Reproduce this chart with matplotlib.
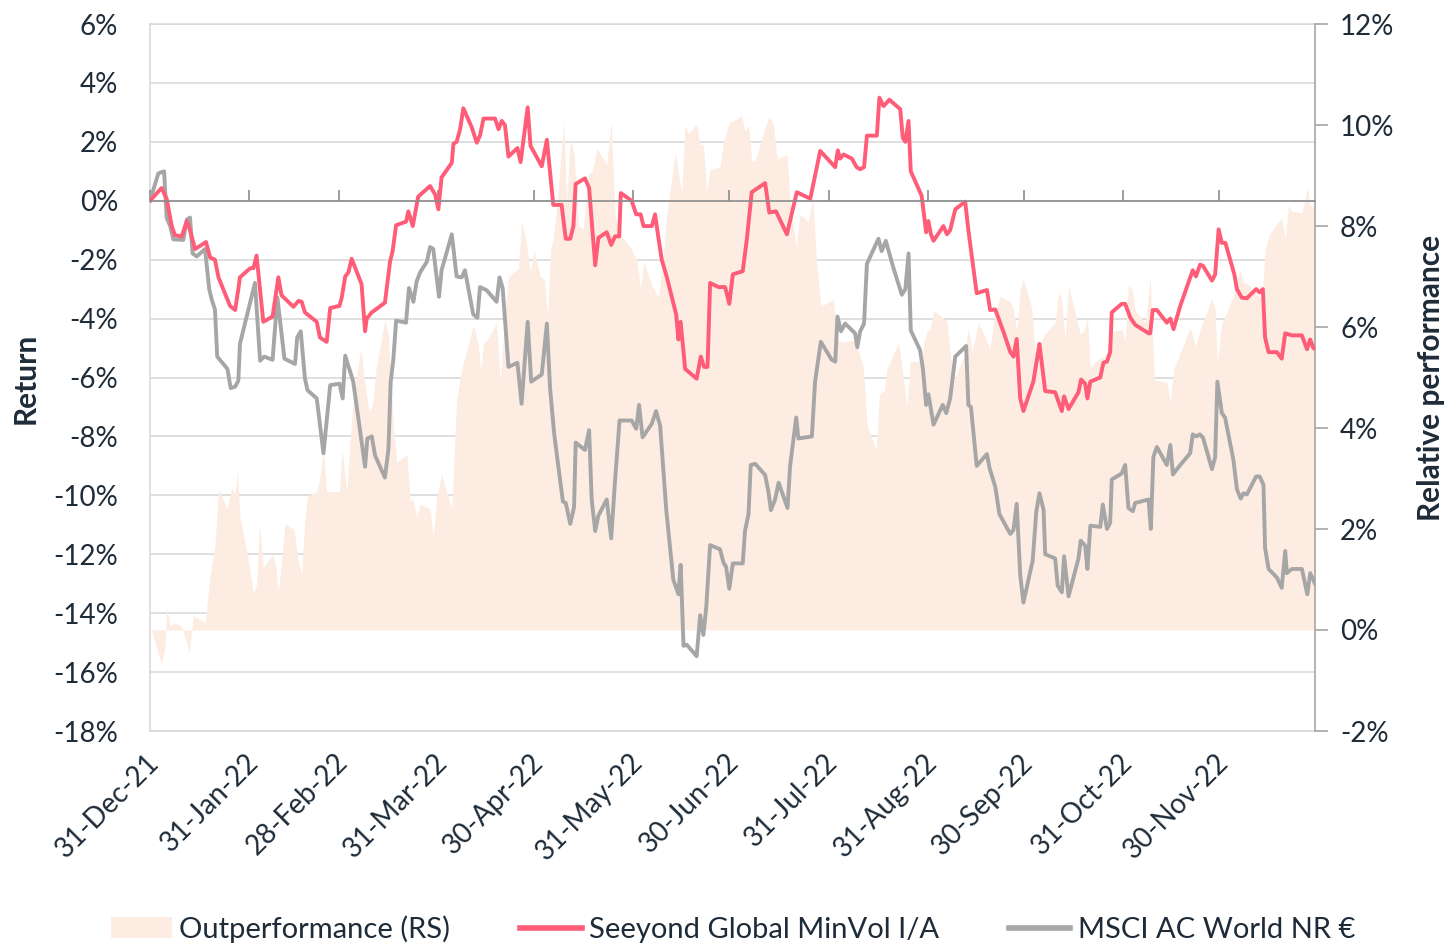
import numpy as np
import pandas as pd
import matplotlib
matplotlib.use("Agg")
import matplotlib.pyplot as plt
import matplotlib.transforms as mtransforms
from matplotlib.patches import Patch
from matplotlib.lines import Line2D

plt.rcParams['font.family'] = ['Lato', 'DejaVu Sans']

# x values are days since 31-Dec-21
start = pd.Timestamp('2021-12-31')

# Seeyond Global MinVol I/A, cumulative return in % (left axis)
seeyond_days = [0.0, 3.6, 5.2, 6.8, 7.8, 9.9, 11.5, 12.5, 14.1, 16.1, 17.5, 18.8, 20.3, 21.4, 25.0, 26.6, 27.6, 28.1,
                31.3, 32.3, 33.3, 35.4, 38.3, 40.1, 41.1, 44.8, 46.4, 47.4, 48.4, 52.1, 53.1, 55.2, 56.3, 59.2, 59.9,
                61.0, 62.0, 63.0, 66.1, 67.2, 67.7, 69.3, 73.4, 75.0, 75.8, 76.9, 80.0, 80.7, 82.1, 83.8,
                87.5, 89.1, 90.1, 91.1, 94.3, 94.8, 95.8, 96.9, 97.9, 100.5, 102.1, 103.1, 104.2, 107.8, 108.9, 109.9,
                110.9, 112.0, 114.8, 115.8, 118.0, 118.9, 122.4, 124.0, 126.0, 128.6, 129.9, 131.3, 132.3, 133.0,
                135.9, 137.2, 139.1, 140.1, 142.7, 144.1, 145.3, 146.6, 147.1, 150.5, 151.9, 153.3, 154.2, 156.8,
                157.8, 158.9, 159.9, 161.5, 164.4, 165.1, 165.8, 167.2, 170.8, 172.1, 173.1, 174.2, 175.0, 177.6,
                179.7, 181.0, 182.1, 185.2, 186.5, 188.0, 192.2, 193.5, 195.6, 199.0, 202.1, 206.3, 209.4, 214.1,
                214.9, 215.6, 216.7, 219.3, 220.8, 221.9, 223.1, 224.0, 227.1, 227.9, 229.2, 231.0, 234.4, 235.2,
                236.0, 237.0, 237.7, 241.1, 242.5, 243.2, 244.0, 244.8, 247.9, 249.0, 250.0, 251.6, 254.7, 255.7,
                258.3, 261.5, 262.5, 264.1, 266.7,
                268.8, 269.8, 270.8, 271.9, 272.9, 276.0, 277.9, 279.7, 282.8, 284.9, 285.6, 287.0, 290.1, 290.9,
                292.2, 292.9, 293.8, 296.9, 297.9, 299.0, 300.0, 300.5, 303.6, 304.7, 306.3, 307.8, 312.0, 312.5,
                313.3, 314.6, 317.7, 318.8, 319.8, 321.9, 325.0, 325.8, 326.8, 328.1, 329.0, 331.8, 332.8, 333.9,
                334.9, 336.0, 337.5, 338.8, 339.6, 341.1, 342.7, 345.6, 346.7, 347.7, 348.4, 349.5, 352.1, 353.6,
                354.7, 356.8, 359.9, 361.5, 362.5, 363.5, 364.0]
seeyond_vals = [0.00, 0.43, 0.07, -0.86, -1.17, -1.21, -0.69, -1.00, -1.64, -1.50, -1.40, -1.93, -2.00, -2.60, -3.57,
                -3.71, -3.00, -2.60, -2.29, -2.29, -1.86, -4.11, -3.93, -2.60, -3.21, -3.60, -3.40, -3.43, -3.79,
                -4.11, -4.64, -4.79, -3.64, -3.57, -3.29, -2.57, -2.43, -1.97, -2.83, -4.43, -4.00, -3.79, -3.46,
                -2.07, -1.71, -0.83, -0.71, -0.36, -0.86, 0.14,
                0.50, 0.21, -0.29, 0.79, 1.29, 1.93, 2.00, 2.43, 3.14, 2.50, 1.97, 2.21, 2.79, 2.79, 2.43, 2.71, 2.57,
                1.50, 1.79, 1.31, 3.17, 1.86, 1.17, 2.07, -0.14, -0.14, -1.29, -1.29, -0.86, 0.57, 0.76, 0.43, -2.19,
                -1.26, -1.07, -1.50, -1.21, -1.21, 0.26, 0.00, -0.46, -0.46, -0.86, -0.86, -0.46, -1.29, -2.00, -2.60,
                -3.86, -4.71, -4.11, -5.71, -6.04, -5.29, -5.64, -5.64, -2.79, -2.93,
                -2.93, -3.50, -2.50, -2.39, -1.29, 0.29, 0.60, -0.40, -0.36, -1.14, 0.29, 0.07, 1.69, 1.14, 1.71, 1.43,
                1.57, 1.43, 1.14, 1.07, 1.14, 2.21, 2.21, 3.50, 3.21, 3.43, 3.11, 2.14, 2.00, 2.71, 1.00, 0.17, -1.07,
                -0.69, -1.14, -1.36, -0.86, -1.14, -1.00, -0.29, -0.03, -1.00, -3.14, -3.03, -3.71, -3.69, -4.46,
                -5.14, -5.29, -4.69, -6.71, -7.14, -6.14, -4.86, -6.46, -6.50, -7.14, -6.64, -7.07, -6.50, -6.07,
                -6.21, -6.71, -6.14, -6.00, -5.50, -5.46, -5.14, -3.79, -3.50, -3.50, -3.97, -4.21, -4.50, -4.50,
                -3.71, -3.71, -4.14, -4.00, -4.36, -3.57, -2.60, -2.36, -2.57, -2.17, -2.21, -2.71, -2.50, -0.97,
                -1.43, -1.43, -2.00, -2.50, -3.00, -3.29, -3.31, -3.00, -3.11, -3.00, -4.64, -5.14, -5.14, -5.36,
                -4.50, -4.57, -4.57, -5.04, -4.71, -5.00, -5.03]

# MSCI AC World NR EUR, cumulative return in % (left axis)
msci_days = [0.0, 2.6, 4.4, 5.2, 6.3, 7.3, 10.4, 11.5, 12.5, 13.3, 14.6, 17.2, 18.5, 19.3, 20.3, 21.0, 24.2, 25.2,
             26.6, 27.6, 28.1, 32.8, 34.4, 35.7, 38.3, 39.8, 42.0, 45.3, 46.0, 47.1, 48.4, 49.2, 52.1, 54.2, 56.3,
             59.2, 60.2, 61.0, 63.5, 67.2, 67.9, 69.3, 70.3, 73.4, 74.5, 75.2, 76.0, 76.9, 80.0, 80.9, 82.3, 83.3,
             84.4, 86.5,
             87.5, 88.5, 90.3, 91.1, 94.3, 95.8, 97.4, 98.4, 101.0, 102.3, 103.1, 105.2, 108.3, 109.2, 110.2, 112.0,
             114.8, 116.1, 118.0, 119.1, 122.4, 124.0, 125.0, 126.3, 129.0, 129.9, 131.3, 132.5, 133.0, 135.9, 137.2,
             138.0, 139.1, 140.1, 142.7, 144.1, 145.3, 146.7, 150.5, 151.9, 152.8, 153.9, 156.8, 158.1, 159.4, 161.3,
             163.5, 165.1, 165.8, 166.7, 167.7, 170.8, 171.9, 172.9, 173.8, 175.0,
             178.1, 179.2, 180.0, 181.0, 182.1, 185.2, 185.9, 187.0, 187.7, 189.1, 192.2, 193.2, 194.0, 195.3, 196.4,
             199.2, 200.0, 201.9, 202.6, 206.8, 207.8, 209.6, 213.0, 214.1, 214.8, 215.9, 217.2, 220.3, 221.0, 221.9,
             223.1, 224.0, 227.6, 228.6, 229.9, 232.3, 234.9, 236.0, 237.0, 237.7, 240.6, 241.5, 242.5, 243.2, 244.0,
             244.8, 247.7, 248.8, 250.0, 251.6, 255.0, 255.7, 256.5, 258.3, 261.5, 262.3, 264.1, 265.4,
             268.8, 269.8, 270.8, 271.9, 272.9, 275.8, 276.9, 277.9, 279.2, 279.7, 282.8, 283.6, 284.9, 285.6, 287.0,
             290.1, 290.8, 292.2, 292.9, 293.8, 296.9, 297.7, 299.0, 300.0, 300.5, 303.6, 304.7, 305.7, 307.1, 307.8,
             312.0, 312.7, 313.5, 314.6, 317.7, 318.8, 319.6, 321.9, 325.0, 325.8, 326.9, 328.0, 329.0, 331.8, 332.8,
             333.5, 334.9, 335.9, 338.5, 339.6, 340.8, 341.7, 342.7, 345.6, 346.7, 347.9, 348.4, 349.5, 352.1, 353.6,
             354.7, 355.2, 356.8, 359.9, 361.6, 362.5, 364.0]
msci_vals = [0.00, 0.93, 1.00, -0.57, -0.86, -1.31, -1.33, -0.64, -0.57, -1.79, -1.89, -1.64, -3.00, -3.36, -3.69,
             -5.29, -5.71, -6.36, -6.31, -6.11, -4.86, -2.79, -5.43, -5.29, -5.40, -3.29, -5.36, -5.54, -4.64, -4.43,
             -6.03, -6.43, -6.71, -8.57, -6.26, -6.21, -6.71, -5.26, -6.14, -9.03, -8.07, -8.00, -8.64, -9.40, -8.43,
             -6.14, -5.43, -4.07, -4.14, -2.96, -3.43, -2.74, -2.43, -2.07,
             -1.57, -1.64, -3.26, -2.36, -1.14, -2.57, -2.60, -2.36, -3.86, -3.97, -2.93, -3.04, -3.43, -2.60, -2.97,
             -5.64, -5.50, -6.89, -4.11, -6.14, -5.90, -4.17, -6.36, -7.93, -10.21, -10.26, -10.97, -10.40, -8.21,
             -8.46, -7.79, -10.14, -11.21, -10.69, -10.14, -11.46, -9.50, -7.46, -7.46, -7.74, -6.93, -8.03, -7.57,
             -7.14, -7.64, -10.50, -12.86, -13.36, -12.36, -15.11, -15.07, -15.46, -14.07, -14.74, -13.79, -11.69,
             -11.83, -12.29, -12.43, -13.17, -12.31, -12.31, -11.21, -10.64, -8.97, -8.93, -9.31, -9.86, -10.50,
             -10.14, -9.57, -10.43, -9.00, -7.36, -8.07, -8.00, -6.14, -4.79, -5.40, -5.46, -3.93, -4.43, -4.17,
             -4.50, -4.97, -4.43, -4.17, -2.14, -1.29, -1.71, -1.36, -2.29, -3.19, -3.00, -1.79, -4.40, -5.07, -5.71,
             -6.93, -6.57, -7.07, -7.60, -6.93, -7.21, -6.71, -5.29, -4.93, -6.93, -7.00, -9.00, -8.60, -9.07, -9.71,
             -10.64,
             -11.31, -11.17, -10.29, -12.71, -13.64, -12.21, -10.57, -9.93, -10.50, -12.00, -12.14, -13.07, -13.29,
             -12.07, -13.43, -12.14, -11.54, -11.71, -12.50, -11.03, -11.07, -10.31, -11.14, -10.93, -9.46, -9.26,
             -8.97, -10.43, -10.54, -10.26, -10.14, -11.14, -8.69, -8.36, -8.97, -8.29, -9.29, -8.97, -8.57, -7.93,
             -8.00, -7.93, -8.04, -9.11, -8.71, -6.14, -7.21, -7.36, -8.79, -9.79, -10.11, -9.93, -9.97, -9.36,
             -9.36, -9.64, -11.79, -12.50, -12.79, -13.14, -11.89, -12.64, -12.50, -12.50, -13.36, -12.64, -13.00]

# Outperformance (RS), in % (right axis)
outperf_days = [0.0, 0.5, 3.6, 4.7, 5.2, 6.3, 7.3, 9.9, 12.3, 13.5, 17.2, 18.8, 20.3, 21.4, 24.2, 25.5, 26.6, 27.3,
                28.1, 30.7, 32.3, 33.3, 34.2, 35.4, 38.3, 39.4, 40.1, 42.2, 45.0, 46.4, 47.4, 48.4, 49.2, 52.1, 53.1,
                54.2, 55.2, 59.2, 60.0, 61.5, 62.5, 63.5, 65.9, 67.2, 68.5, 69.5, 70.6, 73.4, 74.5, 76.0, 77.1, 80.2,
                81.3, 82.3, 83.3, 84.4,
                87.5, 88.5, 89.6, 91.1, 94.3, 95.8, 97.4, 99.5, 101.0, 102.6, 103.3, 104.2, 105.7, 108.3, 109.4, 110.9,
                112.0, 115.1, 116.1, 117.4, 118.8, 120.0, 121.9, 123.2, 124.2, 125.2, 126.0, 127.3, 129.2, 130.2,
                131.3, 132.5, 133.9, 135.4, 137.0, 138.2, 139.6, 142.7, 144.1, 145.3, 146.9, 150.0, 152.1, 153.3,
                154.2, 156.8, 158.9, 160.4, 161.5, 164.1, 166.1, 167.2, 168.2, 170.8, 171.9, 172.9, 173.9, 175.0,
                178.1, 179.2, 181.0, 184.9, 185.9, 187.0, 188.0, 189.1, 192.2, 193.5, 194.8, 196.0, 199.0, 200.0,
                201.9, 203.1, 205.7, 207.1, 208.3, 209.6, 213.5, 214.6, 216.7, 220.3, 222.9, 224.0, 226.9, 227.9,
                229.4, 230.2, 233.9, 235.2, 236.5, 237.5, 241.1, 241.7, 242.7, 243.8, 244.8, 249.0, 251.0, 254.7,
                255.7, 256.8, 258.9, 262.5, 263.5, 265.6,
                268.8, 269.8, 270.8, 271.9, 272.9, 275.5, 276.6, 279.7, 282.8, 283.9, 284.9, 285.9, 287.0, 290.6,
                291.7, 292.9, 293.8, 296.4, 297.9, 299.0, 300.0, 303.6, 304.7, 305.7, 306.8, 307.8, 311.0, 312.5,
                313.8, 317.7, 318.8, 319.8, 321.9, 325.0, 326.6, 328.1, 331.8, 332.8, 333.5, 334.9, 335.9, 338.5,
                340.6, 341.7, 342.7, 345.6, 347.4, 348.4, 349.8, 352.1, 353.6, 354.7, 355.7, 356.8, 359.9, 361.0,
                361.7, 362.5, 363.5, 364.0]
outperf_vals = [0.00, -0.02, -0.67, -0.35, 0.44, 0.07, 0.15, 0.07, -0.45, 0.28, 0.15, 1.07, 1.69, 2.78, 2.40, 2.82,
                2.70, 3.16, 2.24, 1.40, 0.73, 0.90, 2.11, 1.24, 1.49, 1.24, 0.73, 2.11, 1.99, 1.32, 1.11, 2.20, 2.65,
                2.74, 3.03, 3.57, 2.74, 2.74, 3.57, 2.74, 3.74, 4.57, 5.58, 4.82, 4.32, 4.45, 5.16, 6.14, 5.83, 4.07,
                3.32, 3.47, 2.57, 2.57, 2.24, 2.49,
                2.40, 1.86, 2.65, 3.07, 2.40, 4.57, 5.16, 5.66, 6.04, 5.66, 5.12, 5.66, 5.78, 6.08, 4.91, 6.24, 7.00,
                7.16, 8.08, 7.75, 7.08, 7.50, 7.00, 6.95, 6.20, 7.54, 7.75, 8.50, 10.08, 8.50, 9.75, 9.42, 8.00, 7.95,
                9.04, 9.08, 9.54, 9.21, 10.08, 8.21, 7.83, 7.58, 7.33, 6.74, 7.29, 6.83, 6.58, 7.41, 8.25, 9.46, 8.66,
                10.00, 9.83, 10.02, 9.58, 9.62, 8.66, 9.12,
                9.17, 9.67, 10.04, 10.18, 9.87, 10.00, 9.29, 9.29, 9.96, 10.17, 10.00, 9.33, 9.42, 8.50, 7.58, 8.23,
                8.08, 8.58, 7.25, 6.41, 6.54, 5.74, 5.70, 5.74, 5.20, 4.07, 3.57, 4.66, 4.74, 5.16, 5.70, 5.08, 4.41,
                5.33, 5.31, 5.66, 5.91, 5.95, 6.33, 6.12, 4.91, 5.49, 5.99, 5.49, 6.08, 5.58, 6.08, 6.62,
                6.49, 6.33, 5.91, 6.74, 6.95, 6.37, 5.49, 5.87, 6.08, 6.70, 6.54, 5.74, 6.81, 5.87, 5.91, 6.16, 5.20,
                5.37, 5.41, 5.49, 5.91, 5.95, 5.74, 6.83, 6.74, 6.33, 6.08, 7.00, 4.95, 4.91, 4.49, 5.16, 5.49, 5.99,
                5.62, 5.95, 6.56, 6.33, 5.28, 6.08, 6.20, 6.62, 7.12, 6.87, 6.87, 6.66, 6.54, 7.54, 7.83, 8.04, 8.16,
                7.75, 8.41, 8.29, 8.26, 8.58, 8.75, 8.41, 8.37, 8.41]

tick_dates = ['2021-12-31', '2022-01-31', '2022-02-28', '2022-03-31', '2022-04-30', '2022-05-31',
              '2022-06-30', '2022-07-31', '2022-08-31', '2022-09-30', '2022-10-31', '2022-11-30']
tick_labels = ['31-Dec-21', '31-Jan-22', '28-Feb-22', '31-Mar-22', '30-Apr-22', '31-May-22',
               '30-Jun-22', '31-Jul-22', '31-Aug-22', '30-Sep-22', '31-Oct-22', '30-Nov-22']


def to_dates(days):
    return start + pd.to_timedelta(np.array(days), unit='D')


text_col = '#1e2b38'
red = '#ff5c77'
grey = '#a6a6a6'
peach = '#fdece2'
fs = 20
fs_big = 21.5

fig = plt.figure(figsize=(14.5, 9.46), dpi=100)
ax = fig.add_axes([150 / 1450, 1 - 731 / 946, 1165 / 1450, 707 / 946])
ax.set_zorder(1)

# left axis: gridlines and labels
ax.set_ylim(-18, 6)
ax.set_yticks(range(-18, 7, 2))
ax.set_yticklabels([f'{v}%' for v in range(-18, 7, 2)])
ax.yaxis.grid(True, color='#d9d9d9', lw=1.2)
ax.set_axisbelow(True)
ax.tick_params(axis='y', length=0, pad=23, labelsize=fs, labelcolor=text_col)
for s in ['left', 'top', 'bottom']:
    ax.spines[s].set_color('#d9d9d9')
    ax.spines[s].set_linewidth(1.2)
ax.spines['right'].set_visible(False)

ax.set_xlim(start, pd.Timestamp('2022-12-30'))
ax.set_xticks(pd.to_datetime(tick_dates))
ax.set_xticklabels(tick_labels, rotation=45, ha='right', rotation_mode='anchor')
ax.tick_params(axis='x', length=0, pad=13, labelsize=fs, labelcolor=text_col)
shift = mtransforms.ScaledTranslation(-4 / 100, 0, fig.dpi_scale_trans)
for lbl in ax.get_xticklabels():
    lbl.set_transform(lbl.get_transform() + shift)

# right axis: outperformance area
axr = ax.twinx()
axr.set_zorder(2)
axr.patch.set_visible(False)
axr.fill_between(to_dates(outperf_days), 0, outperf_vals, color=peach, lw=0)
axr.set_ylim(-2, 12)
axr.set_yticks(range(-2, 13, 2))
axr.set_yticklabels([f'{v}%' for v in range(-2, 13, 2)])
axr.tick_params(axis='y', length=9, width=1.2, color='#a6a6a6', pad=9, labelsize=fs, labelcolor=text_col)
for s in ['left', 'top', 'bottom']:
    axr.spines[s].set_visible(False)
axr.spines['right'].set_color('#a6a6a6')
axr.spines['right'].set_linewidth(1.2)

# top layer: lines and the zero axis with month ticks
axl = ax.twinx()
axl.set_zorder(3)
axl.patch.set_visible(False)
axl.set_ylim(-18, 6)
axl.set_yticks([])
axl.xaxis.set_visible(True)
for s in ['left', 'top', 'right']:
    axl.spines[s].set_visible(False)
axl.spines['bottom'].set_position(('data', 0))
axl.spines['bottom'].set_color('#8c8c8c')
axl.spines['bottom'].set_linewidth(1.2)
axl.tick_params(axis='x', direction='in', length=8, width=1.2, color='#8c8c8c', labelbottom=False)
axl.plot(to_dates(msci_days), msci_vals, color=grey, lw=2.8, solid_joinstyle='round')
axl.plot(to_dates(seeyond_days), seeyond_vals, color=red, lw=2.8, solid_joinstyle='round')

fig.text(26 / 1450, 1 - 378 / 946, 'Return', rotation=90, ha='center', va='center',
         fontsize=fs_big, fontweight='bold', color=text_col)
fig.text(1431 / 1450, 1 - 378 / 946, 'Relative performance', rotation=90, ha='center', va='center',
         fontsize=fs_big, fontweight='bold', color=text_col)

handles = [Patch(facecolor=peach, edgecolor='none'),
           Line2D([], [], color=red, lw=4),
           Line2D([], [], color=grey, lw=4)]
labels = ['Outperformance (RS)', 'Seeyond Global MinVol I/A', 'MSCI AC World NR €']
leg = fig.legend(handles, labels, loc='center', bbox_to_anchor=(733 / 1450, 1 - 929 / 946), ncol=3,
                 frameon=False, fontsize=21, handlelength=2.1, handletextpad=0.25, columnspacing=2.4)
for t in leg.get_texts():
    t.set_color(text_col)

fig.savefig('out.png', dpi=100)
